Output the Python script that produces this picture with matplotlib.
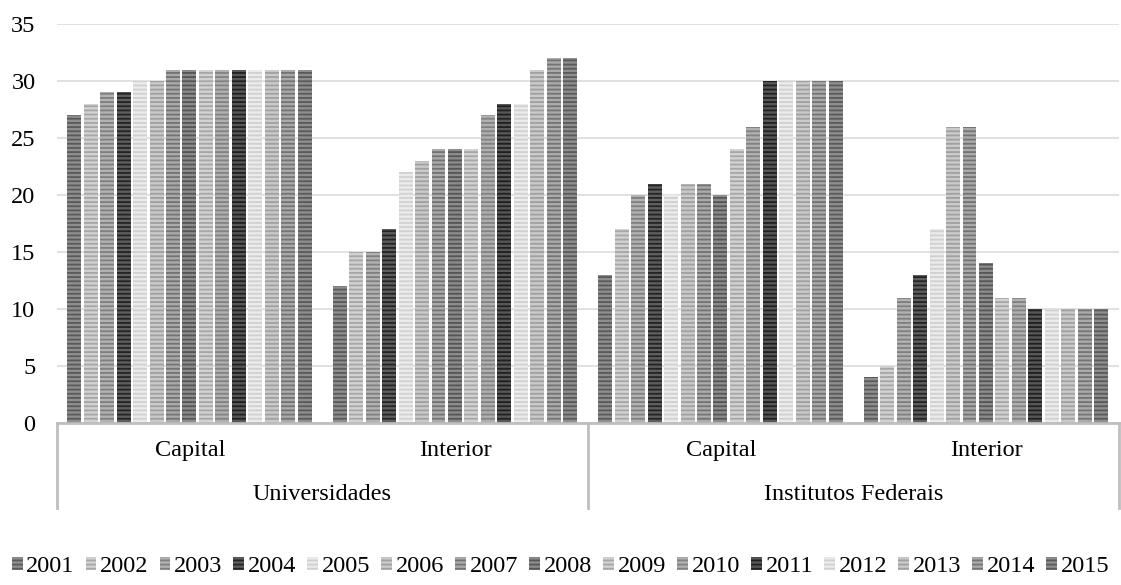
import matplotlib
matplotlib.use("Agg")
import matplotlib.pyplot as plt
from matplotlib.patches import Patch
from matplotlib.lines import Line2D

plt.rcParams['font.family'] = ['Liberation Serif', 'DejaVu Serif']
plt.rcParams['hatch.linewidth'] = 1.3

years = ['2001', '2002', '2003', '2004', '2005', '2006', '2007', '2008',
         '2009', '2010', '2011', '2012', '2013', '2014', '2015']
inner_labels = ['Capital', 'Interior', 'Capital', 'Interior']
outer_labels = ['Universidades', 'Institutos Federais']

univ_capital = [27, 28, 29, 29, 30, 30, 31, 31, 31, 31, 31, 31, 31, 31, 31]
univ_interior = [12, 15, 15, 17, 22, 23, 24, 24, 24, 27, 28, 28, 31, 32, 32]
if_capital = [13, 17, 20, 21, 20, 21, 21, 20, 24, 26, 30, 30, 30, 30, 30]
if_interior = [4, 5, 11, 13, 17, 26, 26, 14, 11, 11, 10, 10, 10, 10, 10]

face_colors = ['#8e8e8e', '#d2d2d2', '#b2b2b2', '#5e5e5e', '#ebebeb',
               '#cacaca', '#aaaaaa', '#8c8c8c', '#d2d2d2', '#b0b0b0',
               '#575757', '#ebebeb', '#cacaca', '#aaaaaa', '#8e8e8e']
stripe_colors = ['#5a5a5a', '#a6a6a6', '#7f7f7f', '#242424', '#d0d0d0',
                 '#a0a0a0', '#737373', '#565656', '#a6a6a6', '#828282',
                 '#202020', '#d0d0d0', '#a0a0a0', '#747474', '#5a5a5a']

groups = [univ_capital, univ_interior, if_capital, if_interior]

FS = 17.5
fig = plt.figure(figsize=(11.21, 5.85), dpi=100)
ax = fig.add_axes([57 / 1121, 162 / 585, (1119 - 57) / 1121, (423 - 24) / 585])

slot = 0.0621
bw = 0.0527
for s, yr in enumerate(years):
    xs = [c + 0.499 + (s - 7) * slot for c in range(4)]
    hs = [g[s] for g in groups]
    ax.bar(xs, hs, width=bw, color=face_colors[s], edgecolor=stripe_colors[s],
           hatch='----', linewidth=0, zorder=3)

ax.set_xlim(0, 4)
ax.set_ylim(0, 35)
ax.set_yticks(range(0, 36, 5))
ax.tick_params(axis='y', length=0, pad=15.5, labelsize=FS)
ax.set_xticks([])
ax.yaxis.grid(True, color='#d9d9d9', linewidth=1.1, zorder=0)
for sp in ['top', 'right', 'left']:
    ax.spines[sp].set_visible(False)
ax.spines['bottom'].set_color('#bfbfbf')
ax.spines['bottom'].set_linewidth(2)
ax.spines['bottom'].set_zorder(4)

trans = ax.get_xaxis_transform()
for xv in [0, 2, 4]:
    ax.add_line(Line2D([xv, xv], [0, -0.212], transform=trans, color='#bfbfbf',
                       linewidth=2, clip_on=False))
for i, lab in enumerate(inner_labels):
    ax.text(i + 0.5, -0.07, lab, transform=trans, ha='center', va='center',
            fontsize=FS)
for i, lab in enumerate(outer_labels):
    ax.text(2 * i + 1, -0.18, lab, transform=trans, ha='center', va='center',
            fontsize=FS)

handles = [Patch(facecolor=face_colors[s], edgecolor=stripe_colors[s], hatch='----',
                 linewidth=0) for s in range(len(years))]
fig.legend(handles, years, loc='center', bbox_to_anchor=(0.5, 1 - 567 / 585),
           ncol=15, frameon=False, fontsize=FS, handlelength=0.45,
           handleheight=0.45, handletextpad=0.15, columnspacing=0.45,
           borderaxespad=0, borderpad=0)

fig.savefig('out.png', dpi=100, facecolor='white')
